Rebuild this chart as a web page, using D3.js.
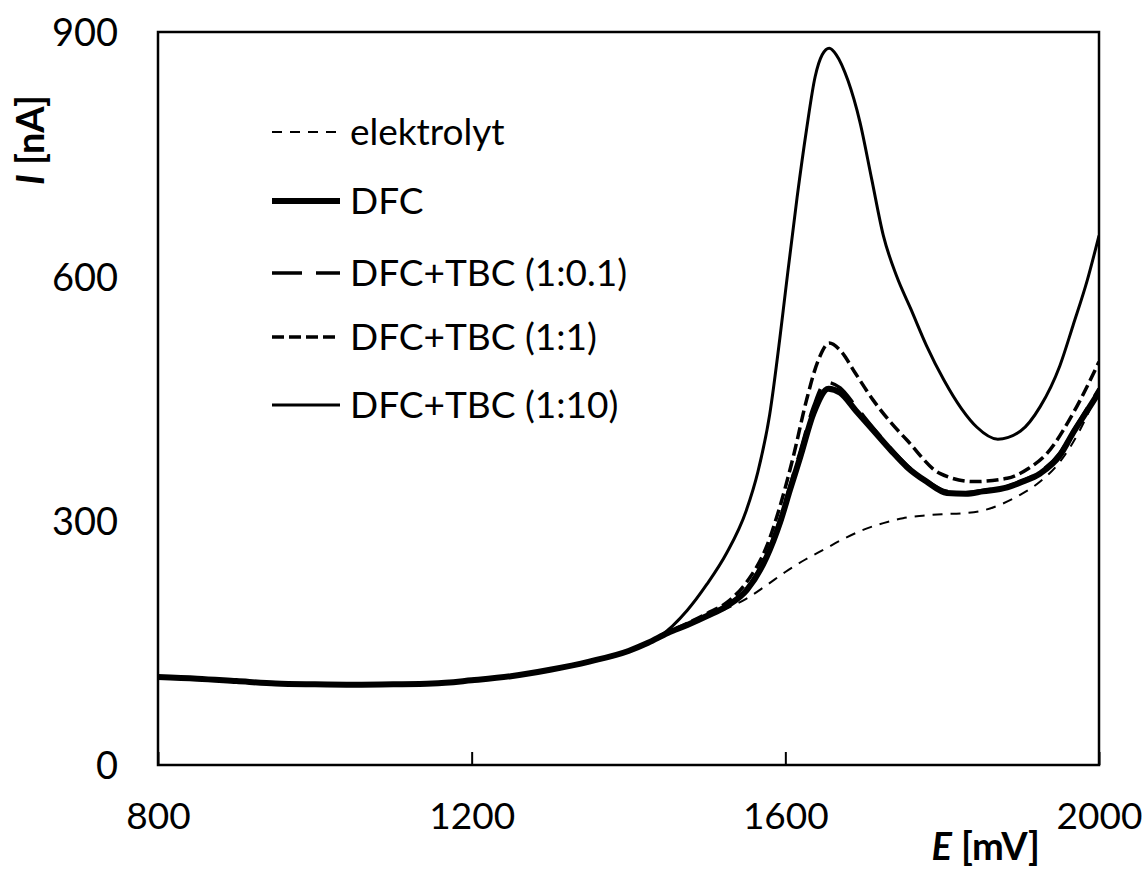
<!DOCTYPE html>
<html>
<head>
<meta charset="utf-8">
<script src="https://cdn.jsdelivr.net/npm/d3@7"></script>
<style>
  html, body { margin: 0; padding: 0; background: #fff; }
  svg { display: block; }
  text { font-family: Lato, "Open Sans", sans-serif; fill: #000; }
</style>
</head>
<body>
<svg id="chart" width="1142" height="869"></svg>
<script>
// Potential (mV) and current (nA) readings; all curves share the low-potential baseline
const baseE = [800, 850, 900, 950, 1000, 1050, 1100, 1150, 1200, 1250, 1300, 1350, 1400, 1425];
const baseI = [108, 106, 103, 100, 99, 98.5, 99, 100, 104, 109, 117, 127, 140, 150];

const elektrolytE = [1450, 1475, 1500, 1525, 1550, 1575, 1600, 1625, 1650, 1675, 1700, 1725, 1750, 1775, 1800, 1825, 1850, 1875, 1900, 1925, 1950, 1975, 2000];
const elektrolytI = [162, 172, 182, 192, 204, 220, 237, 252, 265, 278, 289, 297, 303, 306, 308, 309, 312, 320, 332, 348, 372, 410, 462];

const dfcE = [1450, 1475, 1500, 1525, 1551, 1576, 1593, 1606, 1619, 1636, 1655, 1670, 1690, 1712, 1735, 1755, 1780, 1806, 1830, 1852, 1883, 1900, 1925, 1950, 1967, 1985, 2000];
const dfcI = [162, 172, 183, 195, 215, 255, 297, 338, 378, 432, 462, 457, 435, 411, 386, 366, 348, 334, 333, 336, 341, 347, 358, 380, 408, 435, 458];

const tbc01E = [1450, 1475, 1500, 1525, 1551, 1576, 1593, 1606, 1619, 1636, 1652, 1670, 1690, 1712, 1735, 1755, 1780, 1806, 1830, 1852, 1883, 1900, 1925, 1950, 1967, 1985, 2000];
const tbc01I = [162, 172, 184, 196, 217, 258, 301, 343, 385, 440, 470, 463, 440, 414, 388, 368, 349, 336, 334, 337, 342, 348, 360, 383, 410, 438, 462];

const tbc1E = [1450, 1475, 1500, 1526, 1551, 1576, 1593, 1610, 1627, 1642, 1656, 1670, 1690, 1712, 1735, 1755, 1797, 1840, 1883, 1910, 1934, 1967, 2000];
const tbc1I = [163, 174, 186, 200, 225, 268, 317, 378, 448, 497, 518, 509, 480, 448, 420, 399, 358, 348, 352, 364, 383, 432, 495];

const tbc10E = [1440, 1475, 1500, 1525, 1550, 1565, 1580, 1593, 1600, 1615, 1627, 1638, 1647, 1656, 1665, 1680, 1695, 1710, 1725, 1742, 1760, 1780, 1802, 1825, 1844, 1871, 1900, 1925, 1950, 1967, 1985, 2000];
const tbc10I = [158, 190, 222, 260, 312, 360, 430, 524, 580, 697, 780, 845, 872, 880, 872, 840, 790, 720, 650, 600, 560, 515, 473, 437, 415, 400, 410, 440, 490, 540, 595, 650];

const seriesNames = ["elektrolyt", "DFC", "DFC+TBC (1:0.1)", "DFC+TBC (1:1)", "DFC+TBC (1:10)"];
const xTicks = [800, 1200, 1600, 2000];
const yTicks = [0, 300, 600, 900];

const zip = (es, is) => es.map((e, k) => ({ e, i: is[k] }));
const withBase = (es, is) => zip(baseE, baseI).concat(zip(es, is));

const series = [
  { name: seriesNames[0], data: withBase(elektrolytE, elektrolytI), width: 2, dash: "10,8" },
  { name: seriesNames[1], data: withBase(dfcE, dfcI), width: 6, dash: null },
  { name: seriesNames[2], data: withBase(tbc01E, tbc01I), width: 3.5, dash: "30,14" },
  { name: seriesNames[3], data: withBase(tbc1E, tbc1I), width: 3.5, dash: "12,5" },
  { name: seriesNames[4], data: withBase(tbc10E, tbc10I), width: 3, dash: null }
];

const svg = d3.select("#chart");
const plotLeft = 158, plotRight = 1099, plotTop = 32, plotBottom = 765;

const x = d3.scaleLinear().domain([800, 2000]).range([plotLeft, plotRight]);
const y = d3.scaleLinear().domain([0, 900]).range([plotBottom, plotTop]);

svg.append("defs").append("clipPath").attr("id", "plotclip")
  .append("rect").attr("x", plotLeft).attr("y", plotTop)
  .attr("width", plotRight - plotLeft).attr("height", plotBottom - plotTop);

const line = d3.line()
  .x(d => x(d.e))
  .y(d => y(d.i))
  .curve(d3.curveMonotoneX);

const plot = svg.append("g").attr("clip-path", "url(#plotclip)");
series.forEach(s => {
  plot.append("path")
    .datum(s.data)
    .attr("d", line)
    .attr("fill", "none")
    .attr("stroke", "#000")
    .attr("stroke-width", s.width)
    .attr("stroke-dasharray", s.dash)
    .attr("stroke-linejoin", "round");
});

// X axis: inward ticks, labels below the frame
const xAxis = svg.append("g")
  .attr("transform", `translate(0,${plotBottom})`)
  .call(d3.axisBottom(x).tickValues(xTicks).tickSize(-13).tickFormat(d3.format("d")));
xAxis.select(".domain").remove();
xAxis.selectAll(".tick line").attr("stroke", "#000").attr("stroke-width", 2);
xAxis.selectAll("text")
  .attr("y", 64).attr("dy", null)
  .style("font-size", "37px").style("font-family", "Lato, sans-serif");

// Y axis: labels only
const yAxis = svg.append("g")
  .attr("transform", `translate(${plotLeft},0)`)
  .call(d3.axisLeft(y).tickValues(yTicks).tickSize(0).tickPadding(40).tickFormat(d3.format("d")));
yAxis.select(".domain").remove();
yAxis.selectAll("text")
  .attr("dy", "0.36em")
  .style("font-size", "38px").style("font-family", "Lato, sans-serif");

// Plot frame
svg.append("rect")
  .attr("x", plotLeft).attr("y", plotTop)
  .attr("width", plotRight - plotLeft).attr("height", plotBottom - plotTop)
  .attr("fill", "none").attr("stroke", "#000").attr("stroke-width", 2.5);

// Axis titles
const xt = svg.append("text")
  .attr("x", 1040).attr("y", 860)
  .attr("text-anchor", "end")
  .style("font-size", "38px").style("font-weight", "bold");
xt.append("tspan").style("font-style", "italic").text("E");
xt.append("tspan").text(" [mV]");

const yt = svg.append("text")
  .attr("transform", "translate(44,95) rotate(-90)")
  .attr("text-anchor", "end")
  .style("font-size", "38px").style("font-weight", "bold");
yt.append("tspan").style("font-style", "italic").text("I");
yt.append("tspan").text(" [nA]");

// Legend
const legendY = [132, 201, 273, 337, 405];
const legend = svg.append("g");
series.forEach((s, k) => {
  const g = legend.append("g").attr("transform", `translate(0,${legendY[k]})`);
  g.append("line")
    .attr("x1", 272).attr("x2", 340).attr("y1", 0).attr("y2", 0)
    .attr("stroke", "#000")
    .attr("stroke-width", s.width)
    .attr("stroke-dasharray", s.dash);
  g.append("text")
    .attr("x", 350).attr("dy", "0.36em")
    .style("font-size", "37px")
    .text(s.name);
});
</script>
</body>
</html>
